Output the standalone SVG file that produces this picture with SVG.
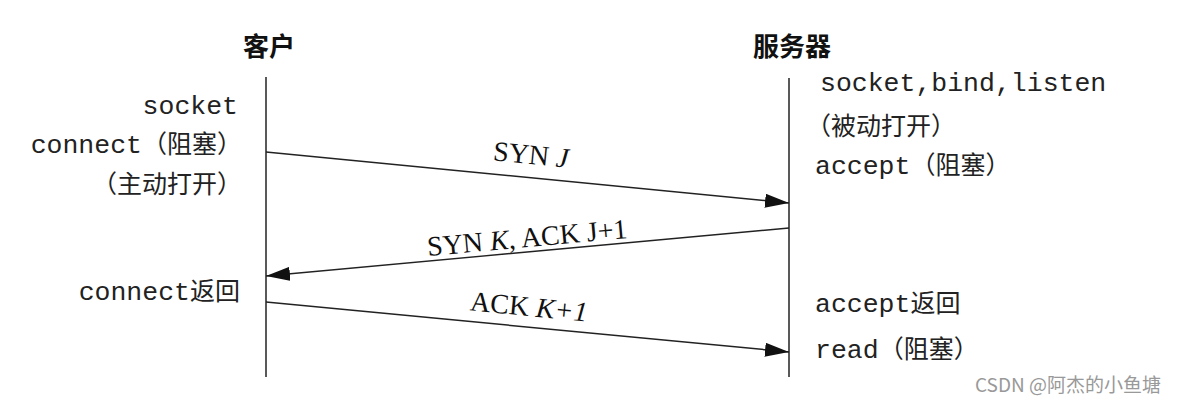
<svg xmlns="http://www.w3.org/2000/svg" width="1178" height="404" viewBox="0 0 1178 404">
<style>
.h{font-family:"Noto Sans CJK SC",sans-serif;font-weight:bold;font-size:26px;fill:#111}
.m{font-family:"Liberation Mono","Noto Sans CJK SC",monospace;font-size:26.5px;fill:#222}
.c{font-size:25px}
.s{font-family:"Liberation Serif",serif;font-size:28px;fill:#111}
.ln{stroke:#222;stroke-width:1.5;fill:none}
</style>
<defs><marker id="a" markerWidth="24" markerHeight="14" refX="24" refY="7" orient="auto" markerUnits="userSpaceOnUse"><path d="M0,0 L24,7 L0,14 Z" fill="#111"/></marker></defs>
<rect width="1178" height="404" fill="#fff"/>
<g id="client"><text class="h" x="269" y="56" text-anchor="middle">客户</text><line class="ln" x1="266" y1="77" x2="266" y2="377"/>
<text class="m" x="238" y="114" text-anchor="end">socket</text>
<text class="m" x="242" y="153" text-anchor="end">connect<tspan class="c">（阻塞）</tspan></text>
<text class="m" x="242" y="193" text-anchor="end"><tspan class="c">（主动打开）</tspan></text>
<text class="m" x="240" y="300" text-anchor="end">connect<tspan class="c">返回</tspan></text></g>
<g id="server"><text class="h" x="792" y="56" text-anchor="middle">服务器</text><line class="ln" x1="789" y1="78" x2="789" y2="377"/>
<text class="m" x="820" y="91">socket,bind,listen</text>
<text class="m" x="806" y="135"><tspan class="c">（被动打开）</tspan></text>
<text class="m" x="815" y="174">accept<tspan class="c">（阻塞）</tspan></text>
<text class="m" x="815" y="312">accept<tspan class="c">返回</tspan></text>
<text class="m" x="815" y="358">read<tspan class="c">（阻塞）</tspan></text></g>
<g id="connectors">
<line class="ln" x1="266" y1="152" x2="789" y2="203" marker-end="url(#a)"/>
<line class="ln" x1="789" y1="228" x2="266" y2="276" marker-end="url(#a)"/>
<line class="ln" x1="266" y1="302" x2="789" y2="352" marker-end="url(#a)"/>
<text class="s" transform="translate(530,164) rotate(5.6)" text-anchor="middle">SYN <tspan font-style="italic">J</tspan></text>
<text class="s" transform="translate(528,247) rotate(-5.2)" text-anchor="middle">SYN <tspan font-style="italic">K</tspan>, ACK J+1</text>
<text class="s" transform="translate(528,316) rotate(5.5)" text-anchor="middle">ACK <tspan font-style="italic">K+1</tspan></text>
</g>
<text x="975" y="392" font-family="Noto Sans CJK SC,sans-serif" font-size="19" fill="#999">CSDN @阿杰的小鱼塘</text>
</svg>
